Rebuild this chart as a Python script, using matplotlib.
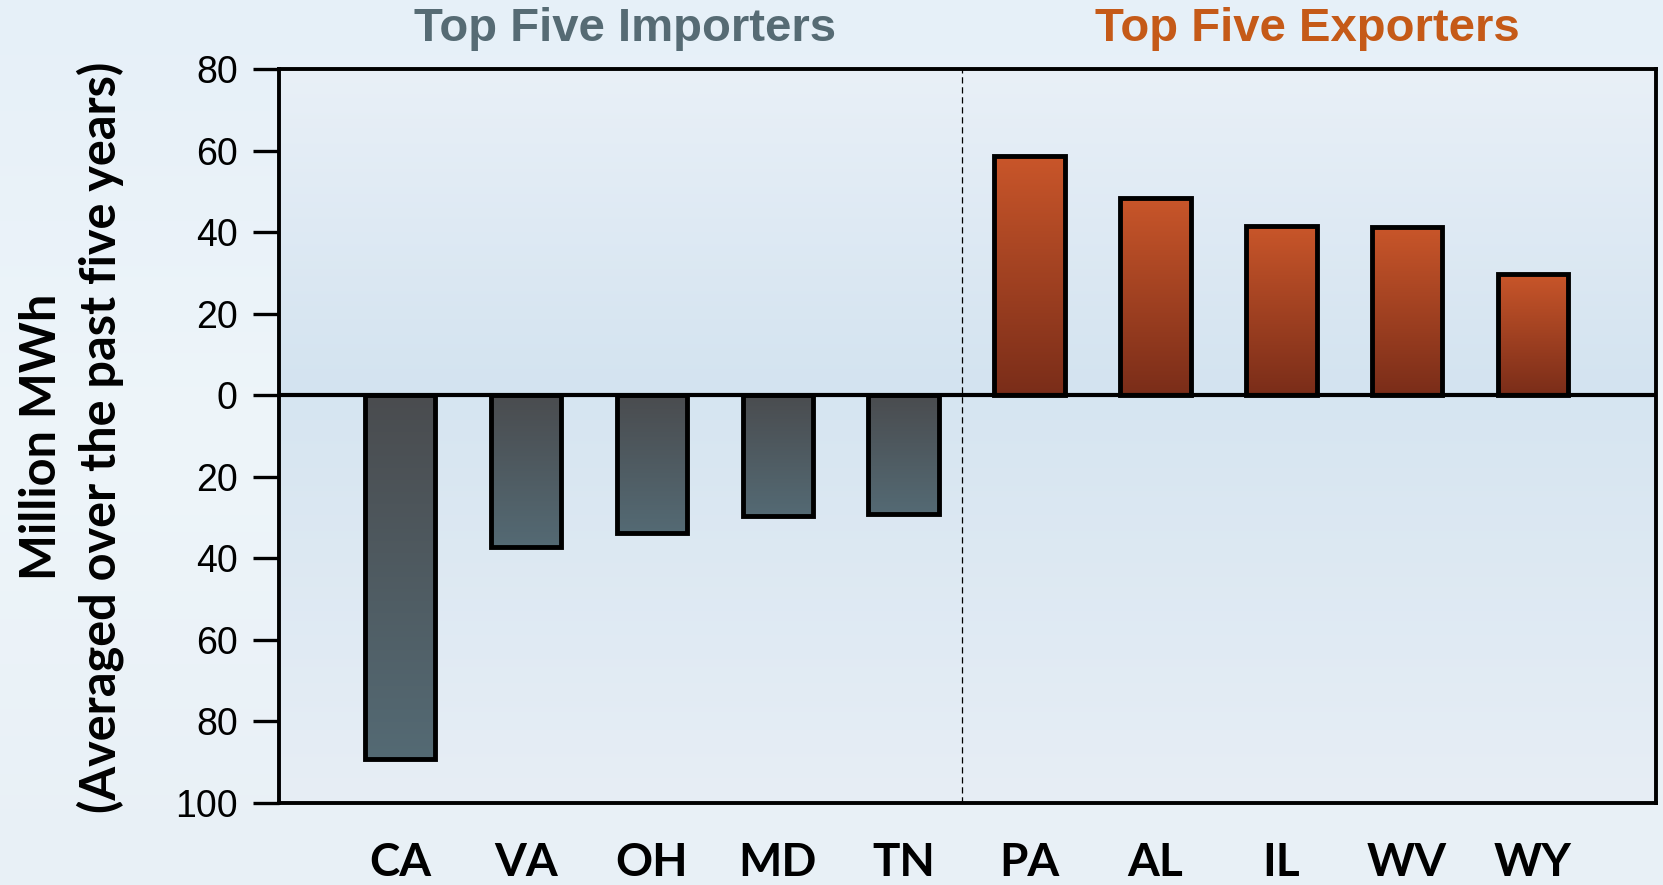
import numpy as np
import matplotlib.pyplot as plt
from matplotlib.colors import LinearSegmentedColormap

# Данные: сальдо перетоков, млн МВт*ч (импорт со знаком минус)
importers = ['CA', 'VA', 'OH', 'MD', 'TN']
import_vals = [-89.2, -37.2, -33.8, -29.7, -29.1]
exporters = ['PA', 'AL', 'IL', 'WV', 'WY']
export_vals = [58.8, 48.4, 41.6, 41.4, 29.7]
y_ticks = [80, 60, 40, 20, 0, -20, -40, -60, -80, -100]

states = importers + exporters
values = import_vals + export_vals

fig = plt.figure(figsize=(16.63, 8.85), dpi=100)

# Фон всей картинки
bg = fig.add_axes([0, 0, 1, 1], zorder=-10)
grad = np.linspace(0, 1, 256).reshape(-1, 1)
bg_cmap = LinearSegmentedColormap.from_list('bg', ['#e6f0f8', '#eef5fa', '#e8f0f6'])
bg.imshow(grad, aspect='auto', cmap=bg_cmap, extent=(0, 1, 0, 1))
bg.set_axis_off()

ax = fig.add_axes([0.168, 0.0927, 0.828, 0.829])
ax.set_facecolor('none')
x = np.arange(len(states))
width = 0.56
xlim = (-0.96, 9.98)
ylim = (-100, 80)

# Градиент внутри области графика
top_cmap = LinearSegmentedColormap.from_list('top', ['#d3e3f0', '#e9f0f7'])
bot_cmap = LinearSegmentedColormap.from_list('bot', ['#e7eef5', '#d6e5f1'])
ax.imshow(grad, aspect='auto', cmap=top_cmap, origin='lower',
          extent=(xlim[0], xlim[1], 0, ylim[1]), zorder=0)
ax.imshow(grad, aspect='auto', cmap=bot_cmap, origin='lower',
          extent=(xlim[0], xlim[1], ylim[0], 0), zorder=0)

gray_cmap = LinearSegmentedColormap.from_list('g', ['#546a74', '#4a4c4f'])
orange_cmap = LinearSegmentedColormap.from_list('o', ['#7a2d19', '#c9562a'])

bars = ax.bar(x, values, width=width, facecolor='none', edgecolor='black',
              linewidth=3.5, zorder=3)
for b, v in zip(bars, values):
    x0 = b.get_x()
    cmap = orange_cmap if v > 0 else gray_cmap
    ax.imshow(grad, aspect='auto', cmap=cmap, origin='lower',
              extent=(x0, x0 + width, min(0, v), max(0, v)), zorder=2)

ax.axhline(0, color='black', linewidth=3, zorder=4)
ax.axvline(4.46, color='black', linewidth=0.9, linestyle=(0, (5, 3)), zorder=1)

ax.set_xlim(*xlim)
ax.set_ylim(*ylim)
ax.set_yticks(y_ticks)
ax.set_yticklabels([str(abs(t)) for t in y_ticks], fontsize=27, family='Liberation Sans')
ax.tick_params(axis='y', length=19, width=2.4, direction='out', pad=11)
ax.set_xticks(x)
ax.set_xticklabels(states, fontsize=33, fontweight='bold', family='Lato')
ax.tick_params(axis='x', length=0, pad=28)
for s in ax.spines.values():
    s.set_linewidth(2.8)

fig.text(0.043, 0.506, 'Million MWh\n(Averaged over the past five years)',
         rotation=90, ha='center', va='center', fontsize=35, fontweight='bold',
         family='Lato', linespacing=1.3)

fig.text(0.376, 0.967, 'Top Five Importers', ha='center', va='center',
         fontsize=34, fontweight='bold', color='#566b74',
         family=['Liberation Sans Narrow', 'Liberation Sans'])
fig.text(0.786, 0.967, 'Top Five Exporters', ha='center', va='center',
         fontsize=34, fontweight='bold', color='#c55a18',
         family=['Liberation Sans Narrow', 'Liberation Sans'])

fig.savefig('out.png', dpi=100)
